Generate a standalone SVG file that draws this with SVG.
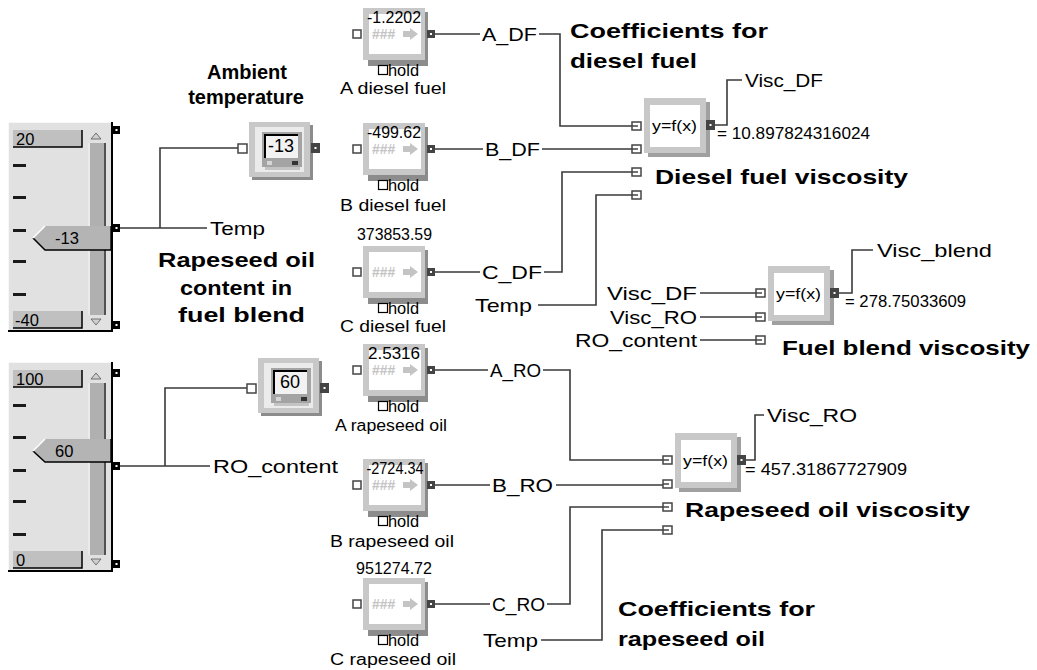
<svg xmlns="http://www.w3.org/2000/svg" xmlns:xlink="http://www.w3.org/1999/xlink" width="1037" height="670" viewBox="0 0 1037 670">
<style>
.t{font-family:"Liberation Sans",Arial,sans-serif;fill:#000;dominant-baseline:central}
.n{font-size:19px}
.s{font-size:16px}
.v{font-size:16.5px}
.b{font-size:21px;font-weight:bold}
.w{fill:none;stroke:#3a3a3a;stroke-width:1.6}
.ip{fill:#fff;stroke:#444;stroke-width:1.5}
.op{fill:#444}
.dot{fill:#fff}
</style>
<defs>
<g id="slider">
<rect x="8" y="122" width="105" height="210" fill="#e1e1e1"/>
<path d="M8,332 V122 H113" fill="none" stroke="#fff" stroke-width="1.5"/>
<path d="M8,331 H112 V122" fill="none" stroke="#000" stroke-width="2"/>
<rect x="13" y="130" width="69" height="17" fill="#c0c0c0"/>
<path d="M13,147 H82 V130" fill="none" stroke="#000" stroke-width="1.5"/>
<rect x="13" y="311" width="69" height="17" fill="#c0c0c0"/>
<path d="M13,328 H82 V311" fill="none" stroke="#000" stroke-width="1.5"/>
<rect x="88" y="143" width="18" height="172" fill="#b0b0b0"/>
<line x1="89" y1="143" x2="89" y2="315" stroke="#fff" stroke-width="1.5"/>
<line x1="105" y1="143" x2="105" y2="315" stroke="#333" stroke-width="1.5"/>
<polygon points="91,139 101,139 96,133" fill="#d0d0d0" stroke="#555" stroke-width="0.8"/>
<polygon points="91,319 101,319 96,325" fill="#d0d0d0" stroke="#555" stroke-width="0.8"/>
<rect x="13" y="164" width="13" height="3" fill="#1a1a1a"/>
<rect x="13" y="196" width="13" height="3" fill="#1a1a1a"/>
<rect x="13" y="229" width="13" height="3" fill="#1a1a1a"/>
<rect x="13" y="260" width="13" height="3" fill="#1a1a1a"/>
<rect x="13" y="293" width="13" height="3" fill="#1a1a1a"/>
</g>
<g id="sport"><rect x="0" y="-4" width="7" height="8" fill="#000"/><rect x="2.5" y="-1" width="2" height="2" class="dot"/></g>
<g id="const">
<rect x="0" y="-4" width="8" height="8" class="ip"/>
<rect x="15" y="-22" width="60" height="54" fill="#8c8c8c"/>
<rect x="10" y="-26" width="62" height="52" fill="#c8c8c8"/>
<rect x="16" y="-20" width="52" height="40" fill="#fff"/>
<text x="19" y="0" class="t" style="font-size:14px;font-weight:bold;fill:#c4c4c4">###</text>
<polygon points="50,-3 57,-3 57,-6 65,0 57,6 57,3 50,3" fill="#c4c4c4"/>
<rect x="74" y="-4" width="8" height="8" class="op"/>
<rect x="77" y="-1" width="2" height="2" class="dot"/>
<rect x="25.5" y="31.5" width="9" height="9" fill="#fff" stroke="#000" stroke-width="1.2"/>
<text x="35" y="36" class="t" style="font-size:16px" textLength="31" lengthAdjust="spacingAndGlyphs">hold</text>
</g>
<g id="disp">
<rect x="3" y="3" width="61" height="55" fill="#8c8c8c"/>
<rect x="0" y="0" width="61" height="55" fill="#c8c8c8"/>
<rect x="6" y="5" width="49" height="45" fill="#ebebeb"/>
<rect x="13" y="10" width="40" height="35" fill="#a4a4a4"/>
<rect x="16" y="13" width="33" height="23" fill="#f2f2f2"/>
<path d="M16,36 V13 H49" fill="none" stroke="#000" stroke-width="2"/>
<rect x="18" y="39" width="5" height="4" fill="#d6d6d6"/>
<rect x="43" y="39" width="6" height="4" fill="#333"/>
<rect x="16" y="45" width="35" height="3" fill="#c4c4c4"/>
</g>
<g id="func">
<rect x="4" y="4" width="62" height="55" fill="#a0a0a0"/>
<rect x="0" y="0" width="62" height="55" fill="#c8c8c8"/>
<rect x="6" y="7" width="50" height="42" fill="#fff"/>
<text x="8" y="27" class="t" style="font-size:15px" textLength="45" lengthAdjust="spacingAndGlyphs">y=f(x)</text>
<rect x="62" y="22" width="9" height="10" class="op"/>
<rect x="65.5" y="26" width="2" height="2" class="dot"/>
</g>
<g id="fin"><rect x="-12" y="-4" width="9" height="8" class="ip"/><line x1="-12" y1="0" x2="-6" y2="0" stroke="#444" stroke-width="1.5"/></g>
</defs>

<g id="connectors">
<path class="w" d="M120,228 H207 M160,228 V148 H238"/>
<path class="w" d="M120,466 H210 M165,466 V388 H247"/>
<path class="w" d="M435,34 H480 M539,34 H560 V126 H632"/>
<path class="w" d="M435,149 H483 M542,149 H632"/>
<path class="w" d="M435,272 H480 M544,272 H562 V172 H632"/>
<path class="w" d="M538,305 H596 V195 H632"/>
<path class="w" d="M435,370 H488 M543,370 H570 V460 H663"/>
<path class="w" d="M435,485 H490 M556,485 H663"/>
<path class="w" d="M435,604 H490 M547,604 H570 V507 H663"/>
<path class="w" d="M541,640 H602 V530 H663"/>
<path class="w" d="M700,293 H756 M700,317 H756 M700,340 H756"/>
<path class="w" d="M715,125 H727 V80 H742"/>
<path class="w" d="M839,293 H852 V250 H873"/>
<path class="w" d="M746,460 H755 V415 H764"/>
</g>

<g id="slider_temp">
<use xlink:href="#slider"/>
<text x="16" y="139" class="t v">20</text>
<text x="15" y="320" class="t v">-40</text>
<polygon points="33,238 45,226 110,226 110,250 45,250" fill="#b4b4b4"/>
<path d="M33,238 L45,250 H111 V226" fill="none" stroke="#000" stroke-width="1.5"/>
<path d="M33,238 L45,226" fill="none" stroke="#fff" stroke-width="1.5"/>
<text x="55" y="238" class="t v">-13</text>
<use xlink:href="#sport" x="113" y="130"/>
<use xlink:href="#sport" x="113" y="228"/>
<use xlink:href="#sport" x="113" y="325"/>
</g>

<g id="slider_ro">
<use xlink:href="#slider" y="240"/>
<text x="16" y="379" class="t v">100</text>
<text x="16" y="560" class="t v">0</text>
<polygon points="33,451 45,439 110,439 110,462 45,462" fill="#b4b4b4"/>
<path d="M33,451 L45,462 H111 V439" fill="none" stroke="#000" stroke-width="1.5"/>
<path d="M33,451 L45,439" fill="none" stroke="#fff" stroke-width="1.5"/>
<text x="55" y="451" class="t v">60</text>
<use xlink:href="#sport" x="113" y="373"/>
<use xlink:href="#sport" x="113" y="466"/>
<use xlink:href="#sport" x="113" y="564"/>
</g>

<g id="display_temp">
<rect x="238" y="144" width="9" height="9" class="ip"/>
<use xlink:href="#disp" x="249" y="122"/>
<text x="268" y="146" class="t" style="font-size:18px">-13</text>
<rect x="311" y="143" width="9" height="10" class="op"/><rect x="314.5" y="147" width="2" height="2" class="dot"/>
<text x="247" y="72" class="t b" text-anchor="middle" style="font-size:20px">Ambient</text>
<text x="246" y="97" class="t b" text-anchor="middle" style="font-size:20px">temperature</text>
</g>

<g id="display_ro">
<rect x="247" y="384" width="9" height="9" class="ip"/>
<use xlink:href="#disp" x="258" y="358"/>
<text x="280" y="382" class="t" style="font-size:18px">60</text>
<rect x="320" y="383" width="9" height="10" class="op"/><rect x="323.5" y="387" width="2" height="2" class="dot"/>
<text x="236.5" y="259" class="t b" text-anchor="middle" textLength="157" lengthAdjust="spacingAndGlyphs">Rapeseed oil</text>
<text x="236" y="287" class="t b" text-anchor="middle" textLength="112" lengthAdjust="spacingAndGlyphs">content in</text>
<text x="241.5" y="314" class="t b" text-anchor="middle" textLength="127" lengthAdjust="spacingAndGlyphs">fuel blend</text>
</g>

<g id="const_A_DF">
<use xlink:href="#const" x="353" y="34"/>
<text x="394" y="17" class="t v" text-anchor="middle" textLength="54" lengthAdjust="spacingAndGlyphs">-1.2202</text>
<text x="393" y="88" class="t s" text-anchor="middle" textLength="106" lengthAdjust="spacingAndGlyphs">A diesel fuel</text>
</g>
<g id="const_B_DF">
<use xlink:href="#const" x="353" y="149"/>
<text x="394" y="132" class="t v" text-anchor="middle" textLength="54" lengthAdjust="spacingAndGlyphs">-499.62</text>
<text x="393" y="205" class="t s" text-anchor="middle" textLength="106" lengthAdjust="spacingAndGlyphs">B diesel fuel</text>
</g>
<g id="const_C_DF">
<use xlink:href="#const" x="353" y="272"/>
<text x="394.5" y="234" class="t v" text-anchor="middle" textLength="75" lengthAdjust="spacingAndGlyphs">373853.59</text>
<text x="393" y="326" class="t s" text-anchor="middle" textLength="106" lengthAdjust="spacingAndGlyphs">C diesel fuel</text>
</g>
<g id="const_A_RO">
<use xlink:href="#const" x="353" y="370"/>
<text x="394" y="353" class="t v" text-anchor="middle" textLength="52" lengthAdjust="spacingAndGlyphs">2.5316</text>
<text x="391" y="425" class="t s" text-anchor="middle" textLength="112" lengthAdjust="spacingAndGlyphs">A rapeseed oil</text>
</g>
<g id="const_B_RO">
<use xlink:href="#const" x="353" y="485"/>
<text x="395" y="468" class="t v" text-anchor="middle" textLength="57" lengthAdjust="spacingAndGlyphs">-2724.34</text>
<text x="392" y="541" class="t s" text-anchor="middle" textLength="124" lengthAdjust="spacingAndGlyphs">B rapeseed oil</text>
</g>
<g id="const_C_RO">
<use xlink:href="#const" x="353" y="604"/>
<text x="394" y="568" class="t v" text-anchor="middle" textLength="76" lengthAdjust="spacingAndGlyphs">951274.72</text>
<text x="393" y="659" class="t s" text-anchor="middle" textLength="126" lengthAdjust="spacingAndGlyphs">C rapeseed oil</text>
</g>

<g id="func_DF">
<use xlink:href="#func" x="644" y="98"/>
<use xlink:href="#fin" x="644" y="126"/>
<use xlink:href="#fin" x="644" y="149"/>
<use xlink:href="#fin" x="644" y="172"/>
<use xlink:href="#fin" x="644" y="195"/>
<text x="717" y="133" class="t s" textLength="153" lengthAdjust="spacingAndGlyphs">= 10.897824316024</text>
<text x="655" y="176" class="t b" textLength="253" lengthAdjust="spacingAndGlyphs">Diesel fuel viscosity</text>
</g>

<g id="func_blend">
<use xlink:href="#func" x="768" y="266"/>
<use xlink:href="#fin" x="768" y="293"/>
<use xlink:href="#fin" x="768" y="317"/>
<use xlink:href="#fin" x="768" y="340"/>
<text x="845" y="301" class="t s" textLength="121" lengthAdjust="spacingAndGlyphs">= 278.75033609</text>
<text x="782" y="347" class="t b" textLength="248" lengthAdjust="spacingAndGlyphs">Fuel blend viscosity</text>
</g>

<g id="func_RO">
<use xlink:href="#func" x="675" y="433"/>
<use xlink:href="#fin" x="675" y="460"/>
<use xlink:href="#fin" x="675" y="484"/>
<use xlink:href="#fin" x="675" y="507"/>
<use xlink:href="#fin" x="675" y="530"/>
<text x="745" y="469" class="t s" textLength="162" lengthAdjust="spacingAndGlyphs">= 457.31867727909</text>
<text x="685" y="509" class="t b" textLength="285" lengthAdjust="spacingAndGlyphs">Rapeseed oil viscosity</text>
</g>

<g id="labels">
<text x="210" y="228" class="t n" textLength="55" lengthAdjust="spacingAndGlyphs">Temp</text>
<text x="213" y="466" class="t n" textLength="125" lengthAdjust="spacingAndGlyphs">RO_content</text>
<text x="482" y="34" class="t n" textLength="55" lengthAdjust="spacingAndGlyphs">A_DF</text>
<text x="485" y="149" class="t n" textLength="55" lengthAdjust="spacingAndGlyphs">B_DF</text>
<text x="482" y="272" class="t n" textLength="60" lengthAdjust="spacingAndGlyphs">C_DF</text>
<text x="475" y="305" class="t n" textLength="57" lengthAdjust="spacingAndGlyphs">Temp</text>
<text x="490" y="370" class="t n" textLength="51" lengthAdjust="spacingAndGlyphs">A_RO</text>
<text x="492" y="485" class="t n" textLength="61" lengthAdjust="spacingAndGlyphs">B_RO</text>
<text x="492" y="604" class="t n" textLength="53" lengthAdjust="spacingAndGlyphs">C_RO</text>
<text x="483" y="640" class="t n" textLength="55" lengthAdjust="spacingAndGlyphs">Temp</text>
<text x="745" y="80" class="t n" textLength="78" lengthAdjust="spacingAndGlyphs">Visc_DF</text>
<text x="607" y="293" class="t n" textLength="90" lengthAdjust="spacingAndGlyphs">Visc_DF</text>
<text x="610" y="317" class="t n" textLength="87" lengthAdjust="spacingAndGlyphs">Visc_RO</text>
<text x="575" y="340" class="t n" textLength="122" lengthAdjust="spacingAndGlyphs">RO_content</text>
<text x="877" y="250" class="t n" textLength="115" lengthAdjust="spacingAndGlyphs">Visc_blend</text>
<text x="767" y="415" class="t n" textLength="90" lengthAdjust="spacingAndGlyphs">Visc_RO</text>
<text x="570" y="30" class="t b" textLength="198" lengthAdjust="spacingAndGlyphs">Coefficients for</text>
<text x="570" y="60" class="t b" textLength="127" lengthAdjust="spacingAndGlyphs">diesel fuel</text>
<text x="618" y="608" class="t b" textLength="197" lengthAdjust="spacingAndGlyphs">Coefficients for</text>
<text x="618" y="638" class="t b" textLength="147" lengthAdjust="spacingAndGlyphs">rapeseed oil</text>
</g>
</svg>
